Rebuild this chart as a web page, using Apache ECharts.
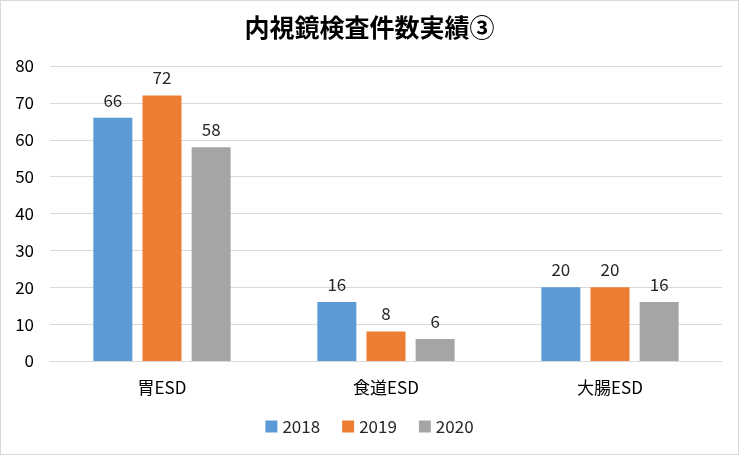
<!DOCTYPE html>
<html><head><meta charset="utf-8">
<script src="https://cdn.jsdelivr.net/npm/echarts@6/dist/echarts.min.js"></script>
<style>html,body{margin:0;padding:0;background:#fff}#c{width:737px;height:453px;border:1px solid #d9d9d9}</style>
</head><body><div id="c"></div>
<script>
const categories = ['胃ESD', '食道ESD', '大腸ESD'];
const s2018 = [66, 16, 20];
const s2019 = [72, 8, 20];
const s2020 = [58, 6, 16];
const seriesNames = ['2018', '2019', '2020'];
const colors = ['#5B9BD5', '#ED7D31', '#A5A5A5'];
const font = '"Liberation Sans Narrow", "Noto Sans CJK JP", sans-serif';
const chart = echarts.init(document.getElementById('c'));
const mk = (name, data, i) => ({
  name, type: 'bar', data, barWidth: 39, barGap: '26%',
  itemStyle: { color: colors[i] },
  label: { show: true, position: 'top', distance: 9, color: '#262626', fontSize: 17, fontFamily: font }
});
chart.setOption({
  animation: false,
  title: { text: '内視鏡検査件数実績③', left: 'center', top: 9,
    textStyle: { fontFamily: '"Noto Sans CJK JP", sans-serif', fontWeight: 'bold', fontSize: 25, color: '#000' } },
  legend: { bottom: 14, left: 'center', itemWidth: 12, itemHeight: 12, itemGap: 22,
    textStyle: { fontFamily: font, fontSize: 17, color: '#262626' },
    data: seriesNames.map((n, i) => ({ name: n, icon: 'rect', itemStyle: { color: colors[i] } })) },
  grid: { left: 49, right: 16, top: 65, bottom: 93 },
  xAxis: { type: 'category', data: categories,
    axisLine: { lineStyle: { color: '#d9d9d9' } }, axisTick: { show: false },
    axisLabel: { margin: 18, fontSize: 17, color: '#000', fontFamily: font } },
  yAxis: { type: 'value', min: 0, max: 80, interval: 10,
    axisLine: { show: false }, axisTick: { show: false },
    splitLine: { lineStyle: { color: '#d9d9d9' } },
    axisLabel: { margin: 16, fontSize: 17, color: '#000', fontFamily: font } },
  series: [mk(seriesNames[0], s2018, 0), mk(seriesNames[1], s2019, 1), mk(seriesNames[2], s2020, 2)]
});
</script></body></html>
